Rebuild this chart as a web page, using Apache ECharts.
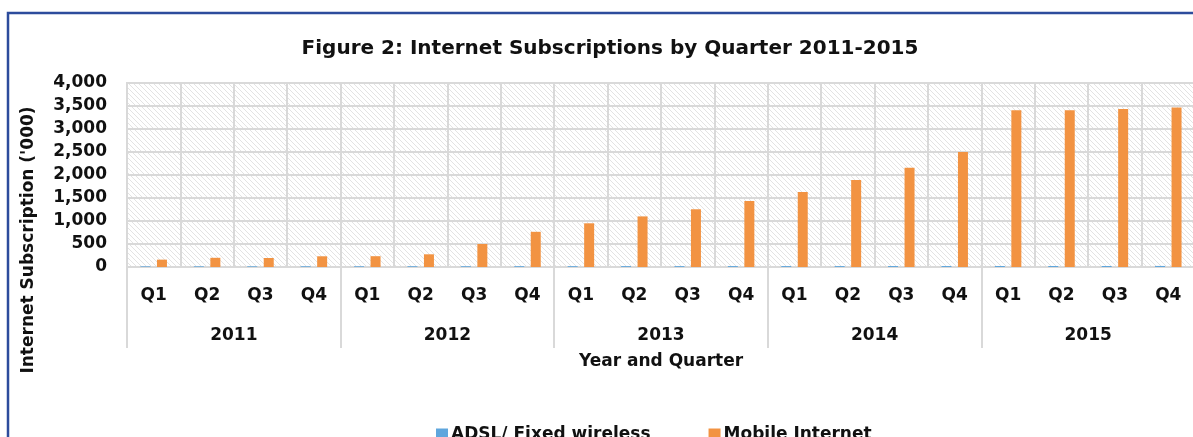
<!DOCTYPE html>
<html>
<head>
<meta charset="utf-8">
<title>Internet Subscriptions by Quarter 2011-2015</title>
<script src="https://cdn.jsdelivr.net/npm/echarts@6/dist/echarts.min.js"></script>
<style>
  html, body { margin: 0; padding: 0; background: #fff; }
  #chart { width: 1193px; height: 437px; }
</style>
</head>
<body>
<div id="chart"></div>
<script>
// data ('000)
const years = ['2011', '2012', '2013', '2014', '2015']
const quarters = ['Q1', 'Q2', 'Q3', 'Q4',
  'Q1', 'Q2', 'Q3', 'Q4',
  'Q1', 'Q2', 'Q3', 'Q4',
  'Q1', 'Q2', 'Q3', 'Q4',
  'Q1', 'Q2', 'Q3', 'Q4']
const adslFixed = [14, 15, 15, 16, 16, 17, 17, 18, 18, 19, 19, 20, 20, 20, 21, 21, 22, 22, 22, 23]
const mobileInternet = [160, 200, 196, 233, 235, 276, 500, 765, 950, 1100, 1255, 1435, 1630, 1890, 2160, 2500, 3405, 3405, 3435, 3470]
const yTicks = { min: 0, max: 4000, step: 500 }

const FONT = 'DejaVu Sans'
const gridLineColor = '#d9d9d9'

// hatched plot background
const makeHatch = () => {
  const size = 5
  const c = document.createElement('canvas')
  c.width = size
  c.height = size
  const ctx = c.getContext('2d')
  ctx.fillStyle = '#ffffff'
  ctx.fillRect(0, 0, size, size)
  ctx.strokeStyle = '#e3e3e3'
  ctx.lineWidth = 1
  ctx.beginPath()
  ctx.moveTo(-1, -1); ctx.lineTo(size + 1, size + 1)
  ctx.moveTo(-1, size - 1); ctx.lineTo(1, size + 1)
  ctx.moveTo(size - 1, -1); ctx.lineTo(size + 1, 1)
  ctx.stroke()
  return c
}

const chart = echarts.init(document.getElementById('chart'))

const option = {
  backgroundColor: '#ffffff',
  animation: false,
  title: {
    text: 'Figure 2: Internet Subscriptions by Quarter 2011-2015',
    left: 605,
    top: 34,
    textAlign: 'center',
    textStyle: { fontFamily: FONT, fontWeight: 'bold', fontSize: 20, color: '#111' }
  },
  legend: {
    data: ['ADSL/ Fixed wireless', 'Mobile Internet'],
    left: 431,
    top: 421,
    icon: 'rect',
    itemWidth: 12,
    itemHeight: 12,
    itemGap: 58,
    textStyle: { fontFamily: FONT, fontWeight: 'bold', fontSize: 17, color: '#111', padding: [0, 0, 0, -2] }
  },
  grid: {
    left: 127,
    top: 83,
    width: 1068,
    height: 184,
    show: true,
    backgroundColor: { image: makeHatch(), repeat: 'repeat' },
    borderColor: gridLineColor,
    borderWidth: 2,
    outerBoundsMode: 'none'
  },
  xAxis: [
    {
      type: 'category',
      data: quarters,
      position: 'bottom',
      name: 'Year and Quarter',
      nameLocation: 'middle',
      nameGap: 86,
      nameTextStyle: { fontFamily: FONT, fontWeight: 'bold', fontSize: 17, color: '#111' },
      axisLine: { show: true, lineStyle: { color: gridLineColor, width: 2 } },
      axisTick: { show: false },
      axisLabel: { interval: 0, margin: 20, fontFamily: FONT, fontWeight: 'bold', fontSize: 17, color: '#111' },
      splitLine: { show: true, interval: 0, lineStyle: { color: gridLineColor, width: 2 } }
    },
    {
      type: 'category',
      data: years,
      position: 'bottom',
      offset: 0,
      axisLine: { show: false },
      axisTick: { show: true, interval: 0, length: 81, lineStyle: { color: gridLineColor, width: 2 } },
      axisLabel: { interval: 0, margin: 60, fontFamily: FONT, fontWeight: 'bold', fontSize: 17, color: '#111' },
      splitLine: { show: false }
    }
  ],
  yAxis: {
    type: 'value',
    min: yTicks.min,
    max: yTicks.max,
    interval: yTicks.step,
    axisLine: { show: false },
    axisTick: { show: false },
    axisLabel: {
      margin: 20,
      fontFamily: FONT,
      fontWeight: 'bold',
      fontSize: 17,
      color: '#111',
      formatter: (v) => v.toLocaleString('en-US')
    },
    splitLine: { lineStyle: { color: gridLineColor, width: 2 } }
  },
  series: [
    {
      name: 'ADSL/ Fixed wireless',
      type: 'bar',
      data: adslFixed,
      barWidth: 10,
      barGap: '65%',
      itemStyle: { color: '#5fa6dd' }
    },
    {
      name: 'Mobile Internet',
      type: 'bar',
      data: mobileInternet,
      barWidth: 10,
      barGap: '65%',
      itemStyle: { color: '#f29342' }
    }
  ],
  graphic: [
    {
      // outer frame of the figure
      type: 'rect',
      silent: true,
      shape: { x: 8, y: 13, width: 1400, height: 700 },
      style: { fill: 'none', stroke: '#2d4c9c', lineWidth: 2.5 }
    },
    {
      type: 'text',
      x: 29,
      y: 240,
      rotation: Math.PI / 2,
      style: {
        text: "Internet Subscription ('000)",
        align: 'center',
        verticalAlign: 'middle',
        fontFamily: FONT,
        fontWeight: 'bold',
        fontSize: 17,
        fill: '#111'
      }
    }
  ]
}

chart.setOption(option)

window.addEventListener('resize', () => {
  chart.resize()
})
</script>
</body>
</html>
